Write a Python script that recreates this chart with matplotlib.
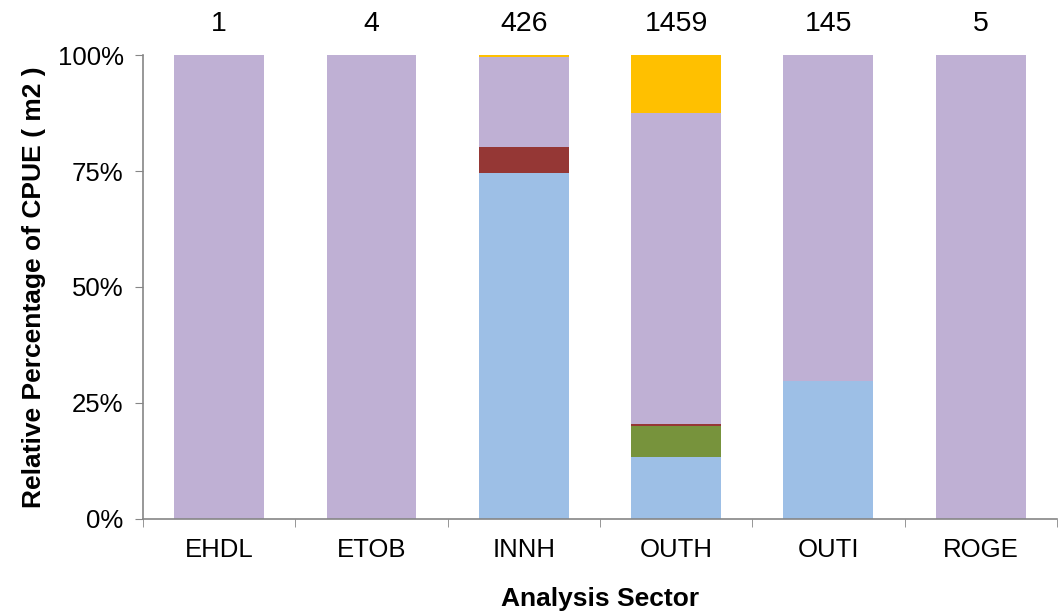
import numpy as np
import matplotlib.pyplot as plt
from matplotlib.ticker import PercentFormatter, FixedLocator

plt.rcParams['font.family'] = ['Liberation Sans', 'DejaVu Sans']

# Sectors and sample counts
sectors = ['EHDL', 'ETOB', 'INNH', 'OUTH', 'OUTI', 'ROGE']
counts = [1, 4, 426, 1459, 145, 5]

# Relative percentage of CPUE per group (bottom to top)
blue = [0, 0, 74.6, 13.4, 29.7, 0]
green = [0, 0, 0, 6.6, 0, 0]
red = [0, 0, 5.6, 0.4, 0, 0]
purple = [100, 100, 19.4, 67.1, 70.3, 100]
orange = [0, 0, 0.4, 12.5, 0, 0]

series = [blue, green, red, purple, orange]
colors = ['#9DBFE6', '#77933C', '#953735', '#BFB0D4', '#FFC000']

fig = plt.figure(figsize=(10.59, 6.16), dpi=100)
ax = fig.add_axes([0.135, 0.1575, 0.863, 0.7532])

x = np.arange(len(sectors))
bottom = np.zeros(len(sectors))
for vals, c in zip(series, colors):
    ax.bar(x, vals, 0.59, bottom=bottom, color=c, edgecolor='none')
    bottom += np.array(vals)

# counts above the bars
for xi, n in zip(x, counts):
    ax.text(xi, 106.7, str(n), ha='center', va='center', fontsize=20.5)

ax.set_xlim(-0.5, len(sectors) - 0.5)
ax.set_ylim(0, 100)
ax.set_yticks([0, 25, 50, 75, 100])
ax.yaxis.set_major_formatter(PercentFormatter(decimals=0))
ax.set_xticks(x)
ax.set_xticklabels(sectors)
ax.xaxis.set_minor_locator(FixedLocator(np.arange(-0.5, len(sectors), 1.0)))
ax.tick_params(axis='x', which='major', length=0, pad=14, labelsize=18.5)
ax.tick_params(axis='x', which='minor', length=6, color='#868686', direction='out')
ax.tick_params(axis='y', length=6, color='#868686', labelsize=18.5, pad=8)

for s in ['top', 'right']:
    ax.spines[s].set_visible(False)
for s in ['left', 'bottom']:
    ax.spines[s].set_color('#868686')
    ax.spines[s].set_linewidth(1.2)

ax.set_xlabel('Analysis Sector', fontsize=19, fontweight='bold', labelpad=18)
ax.set_ylabel('Relative Percentage of CPUE ( m2 )', fontsize=19, fontweight='bold', labelpad=8)

fig.savefig('out.png', dpi=100)
